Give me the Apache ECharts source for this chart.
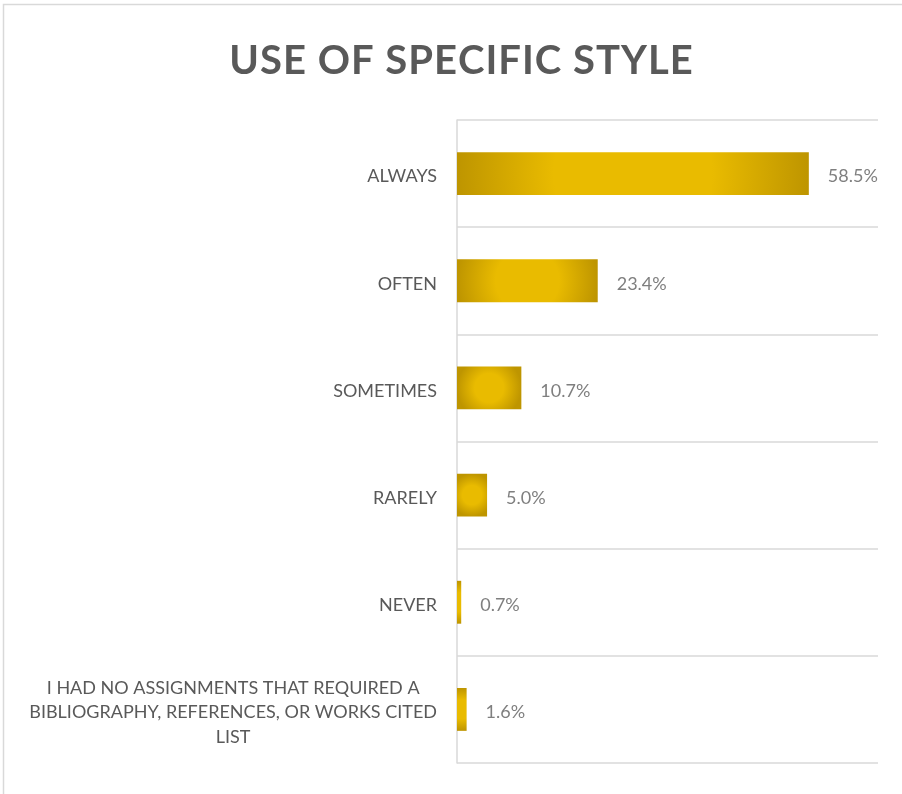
<!DOCTYPE html>
<html>
<head>
<meta charset="utf-8">
<script src="https://cdn.jsdelivr.net/npm/echarts@6/dist/echarts.min.js"></script>
<style>
  html, body { margin: 0; padding: 0; background: #fff; }
  #chart { width: 902px; height: 794px; }
</style>
</head>
<body>
<div id="chart"></div>
<script>
  const titleText = 'USE OF SPECIFIC STYLE'
  const categories = [
    'ALWAYS',
    'OFTEN',
    'SOMETIMES',
    'RARELY',
    'NEVER',
    'I HAD NO ASSIGNMENTS THAT REQUIRED A\nBIBLIOGRAPHY, REFERENCES, OR WORKS CITED\nLIST'
  ]
  const percentages = [58.5, 23.4, 10.7, 5.0, 0.7, 1.6]
  const axisMax = 70

  const gold = '#E9BB00'
  const darkGold = '#BE9500'
  const barRatio = 0.4

  // excel-like "path" gradient: gold in the middle, darker toward the edges
  function barGradient(w, h) {
    const r = Math.max(w, h) / (2 * Math.max(Math.min(w, h), 1))
    return new echarts.graphic.RadialGradient(0.5, 0.5, r, [
      { offset: 0, color: gold },
      { offset: 0.45, color: gold },
      { offset: 1, color: darkGold }
    ])
  }

  const chart = echarts.init(document.getElementById('chart'))

  chart.setOption({
    animation: false,
    graphic: [{
      type: 'rect',
      shape: { x: 3.5, y: 4.5, width: 1000, height: 1000 },
      style: { fill: 'none', stroke: '#d9d9d9', lineWidth: 1.5 },
      silent: true
    }],
    title: {
      // letters wrapped one by one so they can be spaced out a little
      text: titleText.split('').map(ch => '{l|' + ch + '}').join(''),
      left: 456,
      top: 36,
      textAlign: 'center',
      textStyle: {
        fontFamily: 'Lato',
        fontWeight: 'bold',
        fontSize: 40,
        color: '#595959',
        rich: {
          l: {
            fontFamily: 'Lato',
            fontWeight: 'bold',
            fontSize: 40,
            color: '#595959',
            padding: [0, 0.5, 0, 0.5]
          }
        }
      }
    },
    grid: {
      left: 457,
      right: 24,
      top: 120,
      bottom: 31
    },
    xAxis: {
      type: 'value',
      min: 0,
      max: axisMax,
      axisLine: { show: false },
      axisTick: { show: false },
      axisLabel: { show: false },
      splitLine: { show: false }
    },
    yAxis: {
      type: 'category',
      inverse: true,
      data: categories,
      axisLine: { show: true, lineStyle: { color: '#d9d9d9', width: 1.5 } },
      axisTick: { show: false },
      splitLine: { show: true, lineStyle: { color: '#d9d9d9', width: 1.5 } },
      axisLabel: {
        margin: 20,
        padding: [6, 0, 0, 0],
        fontFamily: 'Lato',
        fontSize: 18,
        color: '#595959',
        lineHeight: 24,
        formatter: v => v.split('\n').map(l => '{c|' + l + '}').join('\n'),
        rich: {
          c: { align: 'center', fontFamily: 'Lato', fontSize: 18, color: '#595959', lineHeight: 24.5 }
        }
      }
    },
    series: [{
      name: 'Use of specific style',
      type: 'bar',
      barWidth: (barRatio * 100) + '%',
      data: percentages,
      itemStyle: { color: gold },
      label: {
        show: true,
        position: 'right',
        distance: 19,
        offset: [0, 3],
        fontFamily: 'Lato',
        fontSize: 18,
        color: '#7f7f7f',
        formatter: p => p.value.toFixed(1) + '%'
      }
    }]
  })

  // now that the axes exist, give each bar its own gradient sized to its box
  const x0 = chart.convertToPixel({ xAxisIndex: 0 }, 0)
  const band = Math.abs(
    chart.convertToPixel({ yAxisIndex: 0 }, categories[1]) -
    chart.convertToPixel({ yAxisIndex: 0 }, categories[0])
  )
  const barH = band * barRatio
  chart.setOption({
    series: [{
      data: percentages.map(v => ({
        value: v,
        itemStyle: { color: barGradient(chart.convertToPixel({ xAxisIndex: 0 }, v) - x0, barH) }
      }))
    }]
  })
</script>
</body>
</html>
